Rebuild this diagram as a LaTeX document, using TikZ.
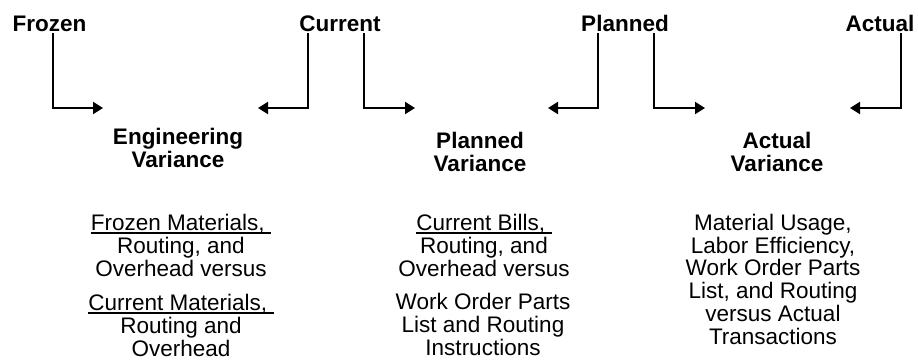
\documentclass[tikz,border=0pt]{standalone}
\usepackage{fontspec}
\setmainfont{Liberation Sans}
\usetikzlibrary{arrows.meta}
\newcommand\ulin[1]{\setbox0\hbox{#1}\rlap{\rule[-3pt]{\wd0}{1.5pt}}\box0}
\begin{document}
\begin{tikzpicture}[x=1pt,y=-1pt,
  hdr/.style={font=\fontsize{22.5}{22.7}\selectfont\bfseries, inner sep=0pt, anchor=base},
  ttl/.style={hdr, align=center},
  body/.style={font=\fontsize{22.5}{22.7}\selectfont, inner sep=0pt, anchor=base, align=center},
  arr/.style={line width=2pt, -{Triangle[length=10pt,width=12pt]}}]
\useasboundingbox (0,0) rectangle (918,360);
% top labels
\node[hdr] (frozen)  at (49.5,31) {Frozen};
\node[hdr] (current) at (340,31) {Current};
\node[hdr] (planned) at (625,31) {Planned};
\node[hdr] (actual)  at (880,31) {Actual};
% arrow ends
\coordinate (eF)  at (103,108);
\coordinate (eC1) at (258,108);
\coordinate (eC2) at (415,108);
\coordinate (eP1) at (548,108);
\coordinate (eP2) at (705,108);
\coordinate (eA)  at (850,108);
\draw[arr] ([xshift=3.5pt,yshift=-2pt]frozen.south) |- (eF);
\draw[arr] ([xshift=-32pt,yshift=-2pt]current.south) |- (eC1);
\draw[arr] ([xshift=24pt,yshift=-2pt]current.south) |- (eC2);
\draw[arr] ([xshift=-27pt,yshift=-2pt]planned.south) |- (eP1);
\draw[arr] ([xshift=29pt,yshift=-2pt]planned.south) |- (eP2);
\draw[arr] ([xshift=21pt,yshift=-2pt]actual.south) |- (eA);
% variance titles (anchor base = last line)
\node[ttl] (engvar) at (178,167) {Engineering\\Variance};
\node[ttl] (planvar) at (480,171) {Planned\\Variance};
\node[ttl] (actvar) at (777,171) {Actual\\Variance};
% descriptions
\node[body] (l1) at (181,276) {\ulin{Frozen Materials,\ }\\Routing, and\\Overhead versus};
\node[body] (l2) at (181,356) {\ulin{Current Materials,\ }\\Routing and\\Overhead};
\node[body] (m1) at (484,276) {\ulin{Current Bills,\ }\\Routing, and\\Overhead versus};
\node[body] (m2) at (483,355) {Work Order Parts\\List and Routing\\Instructions};
\node[body] (r1) at (773,344) {Material Usage,\\Labor Efficiency,\\Work Order Parts\\List, and Routing\\versus Actual\\Transactions};
\end{tikzpicture}
\end{document}
